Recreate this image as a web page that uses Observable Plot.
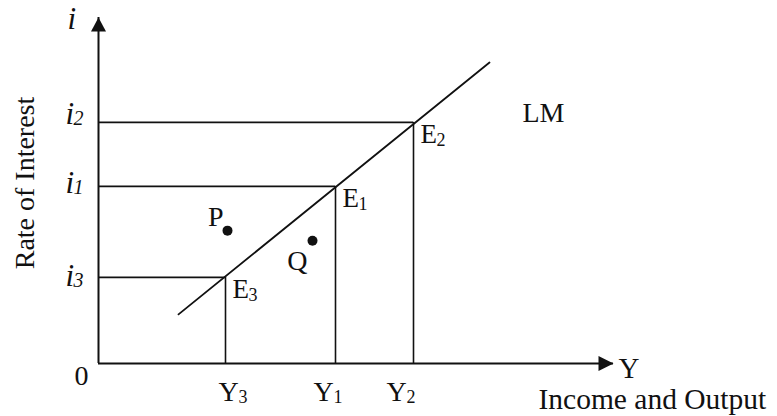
<!DOCTYPE html>
<html>
<head>
<meta charset="utf-8">
<script src="https://cdn.jsdelivr.net/npm/d3@7"></script>
<script src="https://cdn.jsdelivr.net/npm/@observablehq/plot@0.6"></script>
<style>
  html, body { margin: 0; padding: 0; background: #fff; }
  #chart svg { display: block; background: #fff; }
</style>
</head>
<body>
<div id="chart"></div>
<script>
// ---- data (conceptual units) ----
const xMax = 103;            // end of income axis (arrow tip)
const yMax = 100;            // end of interest axis (arrow tip)
const eqSubs   = ["3", "1", "2"];          // E3, E1, E2  /  Y3, Y1, Y2  /  i3, i1, i2
const incomes  = [25.4, 47.4, 63.0];       // Y3, Y1, Y2
const rates    = [24.9, 51.2, 69.7];       // i3, i1, i2
const lmX      = [16.0, 78.2];             // LM curve end points
const lmY      = [14.2, 87.0];
const pointNames = ["P", "Q"];
const pointX     = [25.8, 42.8];
const pointY     = [38.4, 35.5];
const xTitle = "Income and Output";
const yTitle = "Rate of Interest";

// ---- tables built from the arrays ----
const eq = incomes.map((x, i) => ({x, y: rates[i], sub: eqSubs[i]}));
const lm = lmX.map((x, i) => ({x, y: lmY[i]}));
const pts = pointNames.map((name, i) => ({name, x: pointX[i], y: pointY[i]}));

// ---- label nudges (style only) ----
const yLabelDx = {"3": -7, "1": -22, "2": -27};
const iLabelDy = {"3": 9, "1": 7, "2": 2};
const ptDx = {P: -4, Q: -5};
const ptDy = {P: -5, Q: 29};

const FONT = "'Liberation Serif', 'Times New Roman', serif";
const INK = "#111";

// filled arrowheads, tip at the origin
const arrowUp = {draw(ctx) { ctx.moveTo(0, 0); ctx.lineTo(7.5, 14); ctx.lineTo(-7.5, 14); ctx.closePath(); }};
const arrowRight = {draw(ctx) { ctx.moveTo(0, 0); ctx.lineTo(-15, 7.5); ctx.lineTo(-15, -7.5); ctx.closePath(); }};

const txt = (data, opts) => Plot.text(data, {fontFamily: FONT, fill: INK, lineAnchor: "bottom", textAnchor: "start", fontSize: 28, ...opts});

const chart = Plot.plot({
  width: 777,
  height: 416,
  marginLeft: 98,
  marginRight: 164,
  marginTop: 17,
  marginBottom: 53,
  x: {domain: [0, xMax], axis: null},
  y: {domain: [0, yMax], axis: null},
  style: {fontFamily: FONT, background: "#fff", overflow: "visible"},
  marks: [
    // guide lines to the axes
    Plot.ruleY(eq, {y: "y", x1: 0, x2: "x", stroke: INK, strokeWidth: 1.6}),
    Plot.ruleX(eq, {x: "x", y1: 0, y2: "y", stroke: INK, strokeWidth: 1.6}),
    // axes
    Plot.ruleX([0], {y1: 0, y2: yMax, stroke: INK, strokeWidth: 2}),
    Plot.ruleY([0], {x1: 0, x2: xMax, stroke: INK, strokeWidth: 2}),
    Plot.dot([{x: 0, y: yMax}], {x: "x", y: "y", symbol: arrowUp, fill: INK, stroke: "none"}),
    Plot.dot([{x: xMax, y: 0}], {x: "x", y: "y", symbol: arrowRight, fill: INK, stroke: "none"}),
    // LM curve
    Plot.line(lm, {x: "x", y: "y", stroke: INK, strokeWidth: 1.8}),
    // points P and Q
    Plot.dot(pts, {x: "x", y: "y", r: 5, fill: INK, stroke: "none"}),
    ...pts.map(p => txt([p], {x: "x", y: "y", text: "name", textAnchor: "end", dx: ptDx[p.name], dy: ptDy[p.name], fontSize: 28})),
    // equilibrium labels E
    txt(eq, {x: "x", y: "y", text: () => "E", dx: 7, dy: 21, fontSize: 27}),
    txt(eq, {x: "x", y: "y", text: "sub", dx: 23, dy: 24, fontSize: 18}),
    // income labels Y
    ...eqSubs.map((s, i) => txt([eq[i]], {x: "x", y: 0, text: () => "Y", dx: yLabelDx[s], dy: 37, fontSize: 28})),
    ...eqSubs.map((s, i) => txt([eq[i]], {x: "x", y: 0, text: "sub", dx: yLabelDx[s] + 20, dy: 39, fontSize: 18})),
    // interest labels i
    ...eqSubs.map((s, i) => txt([eq[i]], {x: 0, y: "y", text: () => "i", dx: -33, dy: iLabelDy[s], fontSize: 31, fontStyle: "italic"})),
    ...eqSubs.map((s, i) => txt([eq[i]], {x: 0, y: "y", text: "sub", dx: -25, dy: iLabelDy[s] + 1, fontSize: 20, fontStyle: "italic"})),
    // LM label
    txt([lm[1]], {x: "x", y: "y", text: () => "LM", dx: 33, dy: 60, fontSize: 28}),
    // axis symbols and titles
    txt([{x: 0, y: yMax}], {x: "x", y: "y", text: () => "i", dx: -31, dy: 11, fontSize: 31, fontStyle: "italic"}),
    txt([{x: 0, y: 0}], {x: "x", y: "y", text: () => "0", textAnchor: "end", dx: -10, dy: 21, fontSize: 28}),
    txt([{x: xMax, y: 0}], {x: "x", y: "y", text: () => "Y", dx: 5, dy: 14, fontSize: 29}),
    txt([{x: xMax, y: 0}], {x: "x", y: "y", text: () => xTitle, dx: -75, dy: 45, fontSize: 29.5}),
    txt([yTitle], {frameAnchor: "left", text: d => d, rotate: -90, textAnchor: "middle", dx: -65, dy: -7.5, fontSize: 28})
  ]
});

document.getElementById("chart").append(chart);
</script>
</body>
</html>
